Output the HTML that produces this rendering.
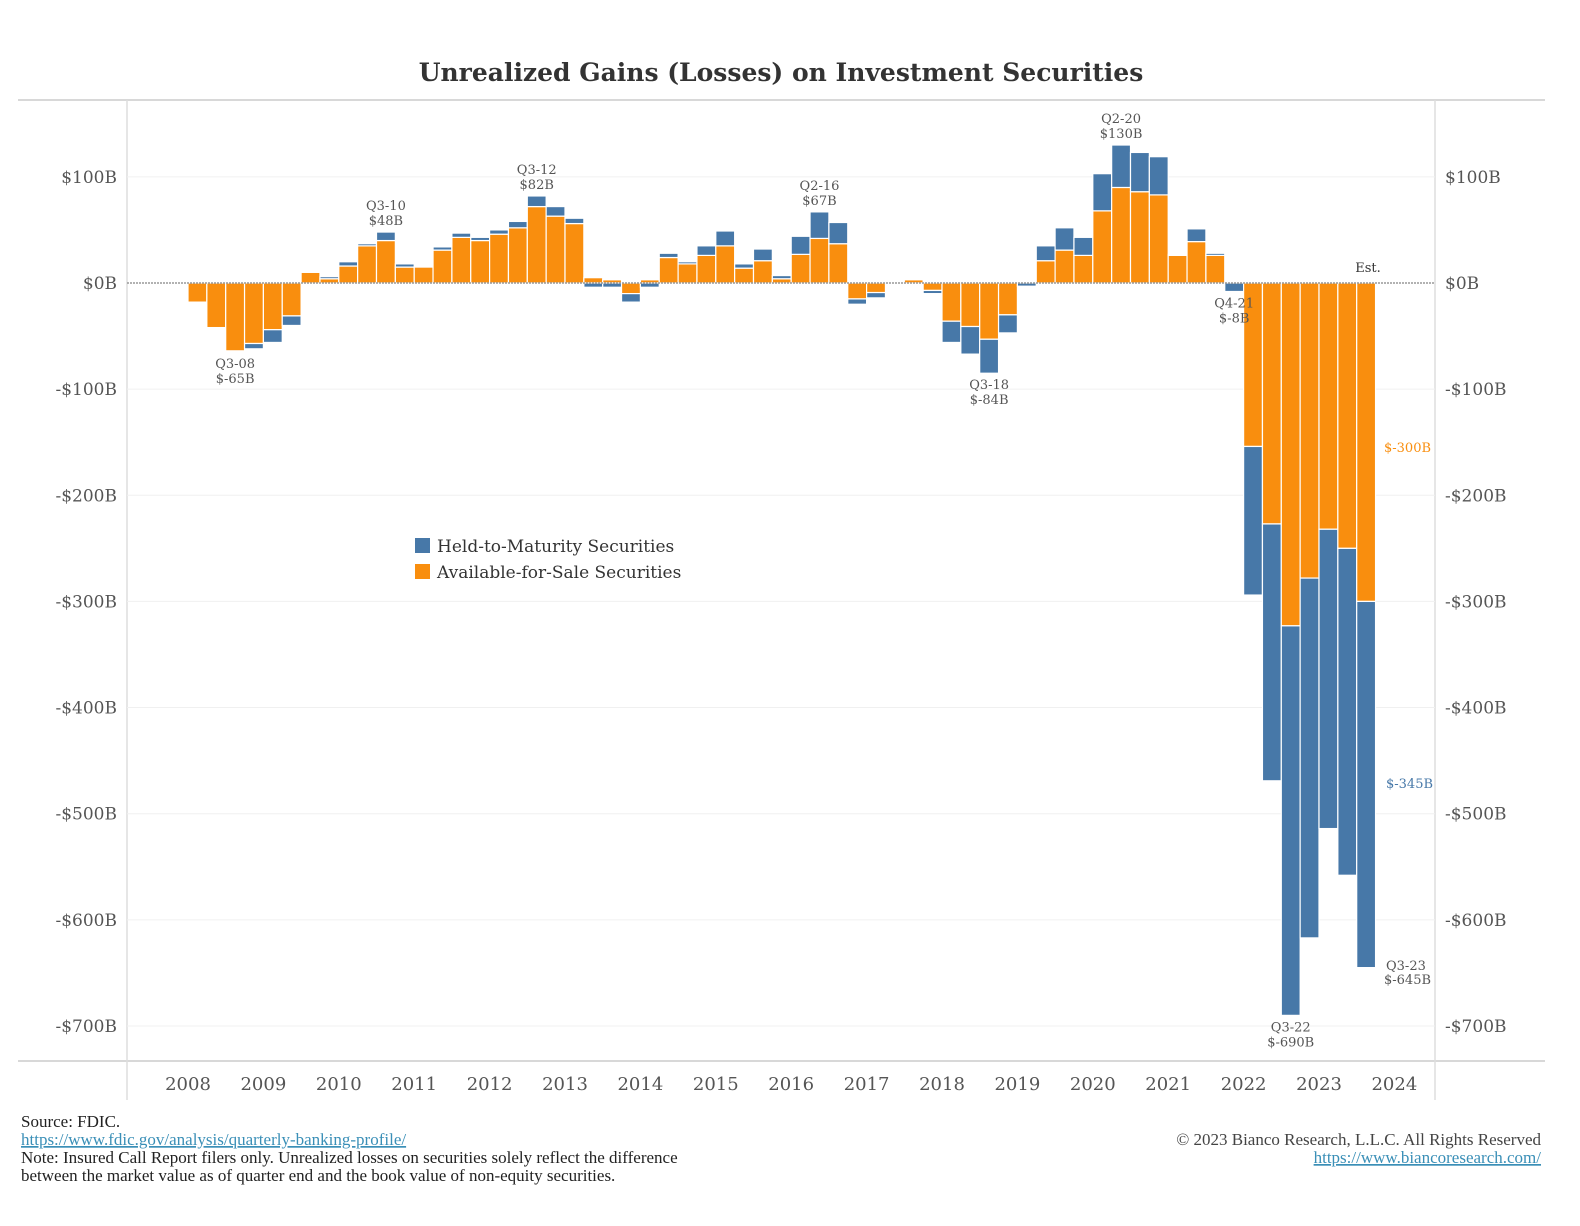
<!DOCTYPE html>
<html><head><meta charset="utf-8">
<style>
body{margin:0;background:#fff;width:1580px;height:1226px;overflow:hidden;font-family:"DejaVu Serif",serif;}
svg{display:block}
</style></head>
<body>
<svg id="chart" width="1580" height="1226" xmlns="http://www.w3.org/2000/svg"></svg>
<script>
const quarters = ["Q1-08","Q2-08","Q3-08","Q4-08","Q1-09","Q2-09","Q3-09","Q4-09","Q1-10","Q2-10","Q3-10","Q4-10","Q1-11","Q2-11","Q3-11","Q4-11","Q1-12","Q2-12","Q3-12","Q4-12","Q1-13","Q2-13","Q3-13","Q4-13","Q1-14","Q2-14","Q3-14","Q4-14","Q1-15","Q2-15","Q3-15","Q4-15","Q1-16","Q2-16","Q3-16","Q4-16","Q1-17","Q2-17","Q3-17","Q4-17","Q1-18","Q2-18","Q3-18","Q4-18","Q1-19","Q2-19","Q3-19","Q4-19","Q1-20","Q2-20","Q3-20","Q4-20","Q1-21","Q2-21","Q3-21","Q4-21","Q1-22","Q2-22","Q3-22","Q4-22","Q1-23","Q2-23","Q3-23"];
const afsValues = [-18,-42,-64,-57,-44,-31,10,4,16,35,40,15,15,31,43,40,46,52,72,63,56,5,3,-10,3,24,18,26,35,14,21,4,27,42,37,-15,-9,0,3,-7,-36,-41,-53,-30,0,21,31,26,68,90,86,83,26,39,26,0,-154,-227,-323,-278,-232,-250,-300];
const htmValues = [0,0,-1,-5,-12,-9,0,2,4,2,8,3,0,3,4,3,4,6,10,9,5,-4,-4,-8,-4,4,2,9,14,4,11,3,17,25,20,-5,-5,-1,-1,-3,-20,-26,-32,-17,-3,14,21,17,35,40,37,36,1,12,2,-8,-140,-242,-367,-339,-282,-308,-345];
const yTicks = [100,0,-100,-200,-300,-400,-500,-600,-700];
const yearLabels = ["2008","2009","2010","2011","2012","2013","2014","2015","2016","2017","2018","2019","2020","2021","2022","2023","2024"];
const annotations = [
  {q:"Q3-08", lines:["Q3-08","$-65B"], pos:"below"},
  {q:"Q3-10", lines:["Q3-10","$48B"], pos:"above"},
  {q:"Q3-12", lines:["Q3-12","$82B"], pos:"above"},
  {q:"Q2-16", lines:["Q2-16","$67B"], pos:"above"},
  {q:"Q3-18", lines:["Q3-18","$-84B"], pos:"below"},
  {q:"Q2-20", lines:["Q2-20","$130B"], pos:"above"},
  {q:"Q4-21", lines:["Q4-21","$-8B"], pos:"below"},
  {q:"Q3-22", lines:["Q3-22","$-690B"], pos:"below"}
];

const NS="http://www.w3.org/2000/svg";
const svg=document.getElementById('chart');
function el(tag,attrs,parent){const e=document.createElementNS(NS,tag);for(const k in attrs)e.setAttribute(k,attrs[k]);(parent||svg).appendChild(e);return e;}
const X0=188, QW=18.85, Y0=283, PPB=1.0614;
const xq=i=>X0+i*QW;
const yv=v=>Y0-v*PPB;
const ORANGE="#F98E0E", BLUE="#4778A8";

let t=el('text',{x:781,y:81,'text-anchor':'middle','font-size':25,'font-weight':'bold',fill:'#333'});
t.textContent="Unrealized Gains (Losses) on Investment Securities";



el('line',{x1:18,y1:100,x2:1545,y2:100,stroke:'#ccc','stroke-width':1.5});
el('line',{x1:18,y1:1061,x2:1545,y2:1061,stroke:'#ccc','stroke-width':1.5});
el('line',{x1:127,y1:100,x2:127,y2:1100,stroke:'#ddd','stroke-width':1.5});
el('line',{x1:1435,y1:100,x2:1435,y2:1100,stroke:'#ddd','stroke-width':1.5});

yTicks.forEach(v=>{
  const y=yv(v);
  if(v!==0){const g=el('line',{x1:127,y1:y,x2:1435,y2:y,stroke:'#f0f0f0','stroke-width':1});
  
  }
  const lab=(v<0?"-$"+(-v):"$"+v)+"B";
  const a=el('text',{x:117,y:y+6,'text-anchor':'end','font-size':17,fill:'#555'});a.textContent=lab;
  
  
  const b=el('text',{x:1445,y:y+6,'text-anchor':'start','font-size':17,fill:'#555'});b.textContent=lab;
  
  
});
yearLabels.forEach((yr,i)=>{
  const a=el('text',{x:xq(i*4),y:1090,'text-anchor':'middle','font-size':18,fill:'#555'});a.textContent=yr;
  
  
});

quarters.forEach((q,i)=>{
  const a=afsValues[i], h=htmValues[i];
  const x=xq(i);
  let posBase=0,negBase=0;
  [[a,ORANGE,'afs'],[h,BLUE,'htm']].forEach(([v,c,n])=>{
    if(v===0)return;
    let top,bot;
    if(v>0){top=yv(posBase+v);bot=yv(posBase);posBase+=v;}
    else{top=yv(negBase);bot=yv(negBase+v);negBase+=v;}
    const r=el('rect',{x:x,y:top,width:QW,height:Math.max(1,bot-top),fill:c,stroke:'#fff','stroke-width':1.2});
    
    
  });
});
el('line',{x1:127,y1:Y0,x2:1435,y2:Y0,stroke:'#999','stroke-width':1.5,'stroke-dasharray':'2,1'});

annotations.forEach(an=>{
  const i=quarters.indexOf(an.q);
  const tot=afsValues[i]+htmValues[i];
  const cx=xq(i)+QW/2;
  const yb=an.pos==="above"?yv(Math.max(0,tot))-22:yv(Math.min(0,tot))+16;
  an.lines.forEach((ln,k)=>{
    const a=el('text',{x:cx,y:yb+k*15,'text-anchor':'middle','font-size':13,fill:'#555'});a.textContent=ln;
    
    
  });
});
[["Est.",1368,272,'#333','middle'],["$-300B",1384,452,ORANGE,'start'],["$-345B",1386,788,BLUE,'start'],["Q3-23",1386,970,'#555','start'],["$-645B",1384,984,'#555','start']].forEach(d=>{
  const a=el('text',{x:d[1],y:d[2],'text-anchor':d[4],'font-size':13,fill:d[3]});a.textContent=d[0];
  
  
});

const lg=el('g',{});


[["Held-to-Maturity Securities",BLUE,546],["Available-for-Sale Securities",ORANGE,572]].forEach(d=>{
  const s=el('rect',{x:415,y:d[2]-8,width:15,height:15,fill:d[1]},lg);
  
  
  const a=el('text',{x:437,y:d[2]+6,'font-size':17,fill:'#333'},lg);a.textContent=d[0];
  
  
});

const f=[["Source: FDIC.",21,1127,'#222','start'],["https://www.fdic.gov/analysis/quarterly-banking-profile/",21,1145,'#3a8fb7','start'],["Note: Insured Call Report filers only. Unrealized losses on securities solely reflect the difference",21,1163,'#222','start'],["between the market value as of quarter end and the book value of non-equity securities.",21,1181,'#222','start'],["© 2023 Bianco Research, L.L.C. All Rights Reserved",1541,1145,'#444','end'],["https://www.biancoresearch.com/",1541,1163,'#3a8fb7','end']];
f.forEach(d=>{
  const a=el('text',{x:d[1],y:d[2],'text-anchor':d[4],'font-size':17,fill:d[3],'letter-spacing':'0','font-family':'Liberation Serif, serif'});a.textContent=d[0];
  if(d[0].startsWith('http'))a.setAttribute('text-decoration','underline');
  
  
});
</script>
</body></html>
